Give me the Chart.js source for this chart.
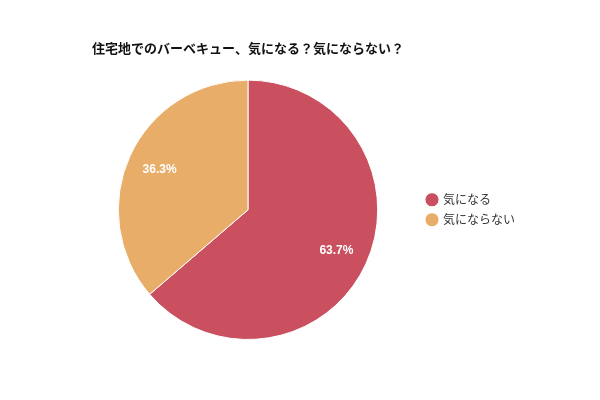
<!DOCTYPE html>
<html>
<head>
<meta charset="utf-8">
<script src="https://cdn.jsdelivr.net/npm/chart.js@4"></script>
<style>
  html, body { margin: 0; padding: 0; background: #fff; }
  #wrap { width: 600px; height: 400px; }
</style>
</head>
<body>
<div id="wrap"><canvas id="chart" width="600" height="400"></canvas></div>
<script>
const titleText = '住宅地でのバーベキュー、気になる？気にならない？';
const labels = ['気になる', '気にならない'];
const values = [63.7, 36.3];
const colors = ['#ca4f5f', '#e8ad69'];

const fontFamily = '"Noto Sans CJK JP", "Noto Sans", sans-serif';

// draw percentage text inside each slice
const sliceLabels = {
  id: 'sliceLabels',
  afterDatasetsDraw(chart) {
    const ctx = chart.ctx;
    const meta = chart.getDatasetMeta(0);
    ctx.save();
    ctx.fillStyle = '#fff';
    ctx.font = 'bold 12px "Liberation Sans", Arial, sans-serif';
    ctx.textAlign = 'center';
    ctx.textBaseline = 'middle';
    meta.data.forEach((arc, i) => {
      const mid = (arc.startAngle + arc.endAngle) / 2;
      const r = arc.outerRadius * 0.75;
      const x = arc.x + Math.cos(mid) * r;
      const y = arc.y + Math.sin(mid) * r;
      ctx.fillText(values[i].toFixed(1) + '%', x, y);
    });
    ctx.restore();
  }
};

new Chart(document.getElementById('chart'), {
  type: 'pie',
  data: {
    labels: labels,
    datasets: [{
      data: values,
      backgroundColor: colors,
      borderColor: '#fff',
      borderWidth: 1,
    }]
  },
  options: {
    responsive: false,
    animation: false,
    layout: {
      padding: {left: 77, top: 30, right: 75, bottom: 60}
    },
    plugins: {
      title: {
        display: true,
        fullSize: false,
        text: titleText,
        color: '#111',
        font: {family: fontFamily, size: 13, weight: 'bold'},
        padding: {top: 10, bottom: 24}
      },
      legend: {
        position: 'right',
        fullSize: false,
        labels: {
          usePointStyle: true,
          pointStyle: 'circle',
          boxWidth: 10,
          boxHeight: 10,
          color: '#333',
          font: {family: fontFamily, size: 12},
          padding: 8
        }
      },
      tooltip: {enabled: false}
    }
  },
  plugins: [sliceLabels]
});
</script>
</body>
</html>
